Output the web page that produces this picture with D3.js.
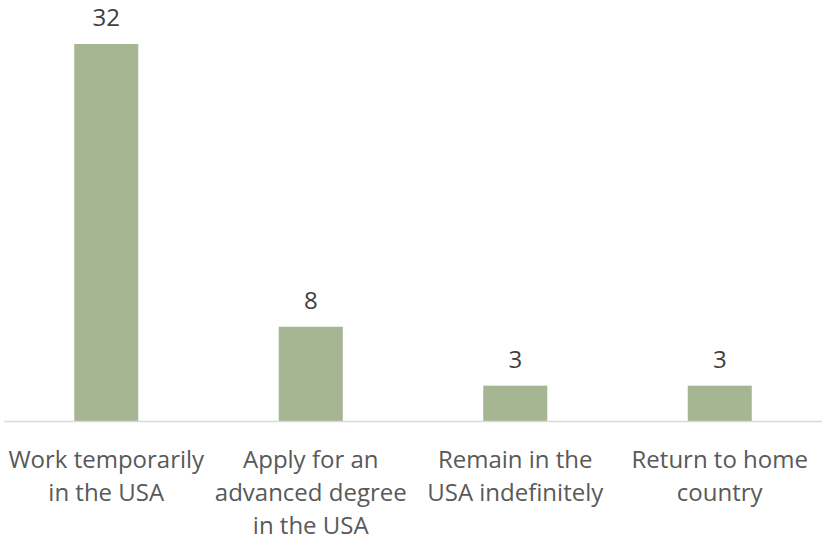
<!DOCTYPE html>
<html>
<head>
<meta charset="utf-8">
<script src="https://cdn.jsdelivr.net/npm/d3@7"></script>
<style>
  body { margin: 0; background: #fff; }
  svg { display: block; }
</style>
</head>
<body>
<div id="chart"></div>
<script>
const categories = [
  ["Work temporarily", "in the USA"],
  ["Apply for an", "advanced degree", "in the USA"],
  ["Remain in the", "USA indefinitely"],
  ["Return to home", "country"]
];
const values = [32, 8, 3, 3];

const width = 822, height = 540;
const baseline = 421;

const svg = d3.select("#chart").append("svg")
    .attr("width", width)
    .attr("height", height);

const x = d3.scaleBand()
    .domain(d3.range(values.length))
    .range([4, 822])
    .paddingInner(0.687)
    .paddingOuter(0.3435);

const y = d3.scaleLinear()
    .domain([0, 32])
    .range([baseline, 44]);

// bars
svg.append("g")
  .selectAll("rect")
  .data(values)
  .join("rect")
    .attr("x", (d, i) => x(i))
    .attr("y", d => y(d))
    .attr("width", x.bandwidth())
    .attr("height", d => baseline - y(d))
    .attr("fill", "#a6b592");

// axis line
svg.append("line")
    .attr("x1", 4).attr("x2", 822)
    .attr("y1", baseline + 0.5).attr("y2", baseline + 0.5)
    .attr("stroke", "#d9d9d9")
    .attr("stroke-width", 1.5);

// value labels
svg.append("g")
    .attr("font-family", "'Open Sans', sans-serif")
    .attr("font-size", 24)
    .attr("fill", "#404040")
    .attr("text-anchor", "middle")
  .selectAll("text")
  .data(values)
  .join("text")
    .attr("x", (d, i) => x(i) + x.bandwidth() / 2)
    .attr("y", d => y(d) - 18)
    .text(d => d);

// category labels
const cat = svg.append("g")
    .attr("font-family", "'Open Sans', sans-serif")
    .attr("font-size", 24)
    .attr("fill", "#595959")
    .attr("text-anchor", "middle")
  .selectAll("text")
  .data(categories)
  .join("text")
    .attr("x", (d, i) => x(i) + x.bandwidth() / 2)
    .attr("y", 468);

cat.selectAll("tspan")
  .data(d => d)
  .join("tspan")
    .attr("x", function() { return this.parentNode.getAttribute("x"); })
    .attr("dy", (d, i) => i === 0 ? 0 : 33)
    .text(d => d);
</script>
</body>
</html>
